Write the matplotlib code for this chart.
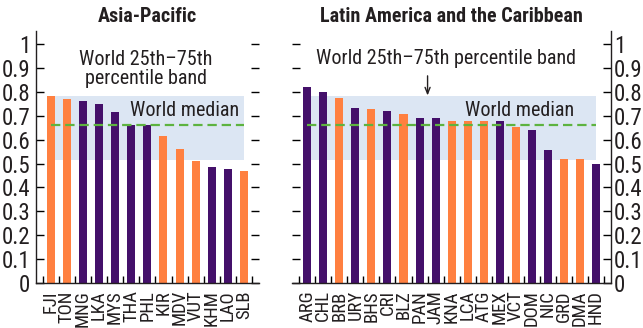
import matplotlib
matplotlib.use("Agg")
import matplotlib.pyplot as plt

plt.rcParams['font.family'] = ['Roboto Condensed', 'Liberation Sans', 'DejaVu Sans']

ORANGE = '#FF8040'
PURPLE = '#44106A'
BAND = '#DCE6F3'
GREEN = '#5DB33F'
INK = '#231F20'

# Asia-Pacific
ap_codes = ['FJI', 'TON', 'MNG', 'LKA', 'MYS', 'THA', 'PHL',
            'KIR', 'MDV', 'VUT', 'KHM', 'LAO', 'SLB']
ap_values = [0.78, 0.77, 0.76, 0.75, 0.715, 0.66, 0.66,
             0.615, 0.56, 0.51, 0.487, 0.479, 0.468]
ap_small = [1, 1, 0, 0, 0, 0, 0, 1, 1, 1, 0, 0, 1]

# Latin America and the Caribbean
la_codes = ['ARG', 'CHL', 'BRB', 'URY', 'BHS', 'CRI', 'BLZ', 'PAN', 'JAM', 'KNA',
            'LCA', 'ATG', 'MEX', 'VCT', 'DOM', 'NIC', 'GRD', 'DMA', 'HND']
la_values = [0.82, 0.80, 0.775, 0.73, 0.726, 0.72, 0.708, 0.69, 0.69, 0.677,
             0.677, 0.677, 0.677, 0.652, 0.64, 0.555, 0.518, 0.518, 0.498]
la_small = [0, 0, 1, 0, 1, 0, 1, 0, 0, 1, 1, 1, 0, 1, 0, 0, 1, 1, 0]

# world reference values
band_lo, band_hi = 0.514, 0.782
world_median = 0.66

yticks = [0, 0.1, 0.2, 0.3, 0.4, 0.5, 0.6, 0.7, 0.8, 0.9, 1]
ylabels = ['0', '0.1', '0.2', '0.3', '0.4', '0.5', '0.6', '0.7', '0.8', '0.9', '1']


def panel(ax, codes, values, small, title, side):
    n = len(codes)
    x = list(range(n))
    ax.fill_between([0, n - 1], band_lo, band_hi, color=BAND, lw=0, zorder=0)
    colors = [ORANGE if s else PURPLE for s in small]
    ax.bar(x, values, width=0.5, color=colors, zorder=2)
    ax.plot([0, n - 1], [world_median, world_median], color=GREEN, lw=1.6,
            dashes=(4.2, 2.2), zorder=3)

    ax.set_xlim(-0.93, n - 0.07)
    ax.set_ylim(0, 1.052)
    ax.set_yticks(yticks)
    ax.set_xticks([i - 0.5 for i in range(n + 1)])
    ax.set_xticklabels([])
    ax.set_xticks(x, minor=True)
    ax.set_xticklabels(codes, minor=True, rotation=90, fontsize=13.5, color=INK)
    ax.tick_params(axis='x', which='minor', length=0, pad=5)
    ax.tick_params(axis='x', which='major', direction='in', length=5, width=1)
    ax.tick_params(axis='y', direction='in', length=6, width=1,
                   left=True, right=True, labelsize=16.5, labelcolor=INK)
    ax.spines['top'].set_visible(False)
    if side == 'left':
        ax.spines['right'].set_visible(False)
        ax.set_yticklabels(ylabels)
        ax.tick_params(axis='y', labelleft=True, labelright=False, pad=4)
    else:
        ax.spines['left'].set_visible(False)
        ax.tick_params(axis='y', labelleft=False, labelright=True, pad=2)
        ax.set_yticklabels(ylabels)
    for s in ['bottom', 'left', 'right']:
        ax.spines[s].set_linewidth(1)
        ax.spines[s].set_color(INK)
    ax.set_title(title, fontsize=14.5, fontweight='bold', pad=7, color=INK)


fig = plt.figure(figsize=(6.43, 3.28), dpi=100)
ax1 = fig.add_axes([0.0555, 0.1363, 0.3473, 0.7683])
ax2 = fig.add_axes([0.4546, 0.1363, 0.4956, 0.7683])

panel(ax1, ap_codes, ap_values, ap_small, 'Asia-Pacific', 'left')
panel(ax2, la_codes, la_values, la_small, 'Latin America and the Caribbean', 'right')

ax1.text(5.9, 0.895, 'World 25th\u201375th\npercentile band', ha='center', va='center',
         fontsize=14.5, linespacing=1.0, color=INK)
ax1.text(11.67, 0.72, 'World median', ha='right', va='center',
         fontsize=14.5, color=INK)

ax2.text(8.62, 0.94, 'World 25th\u201375th percentile band', ha='center', va='center',
         fontsize=14.5, color=INK)
ax2.annotate('', xy=(7.5, band_hi + 0.002), xytext=(7.5, 0.866),
             arrowprops=dict(arrowstyle='->,head_length=0.45,head_width=0.18',
                             color=INK, lw=1, shrinkA=0, shrinkB=0))
ax2.text(16.63, 0.72, 'World median', ha='right', va='center',
         fontsize=14.5, color=INK)

fig.savefig('out.png', dpi=100)
